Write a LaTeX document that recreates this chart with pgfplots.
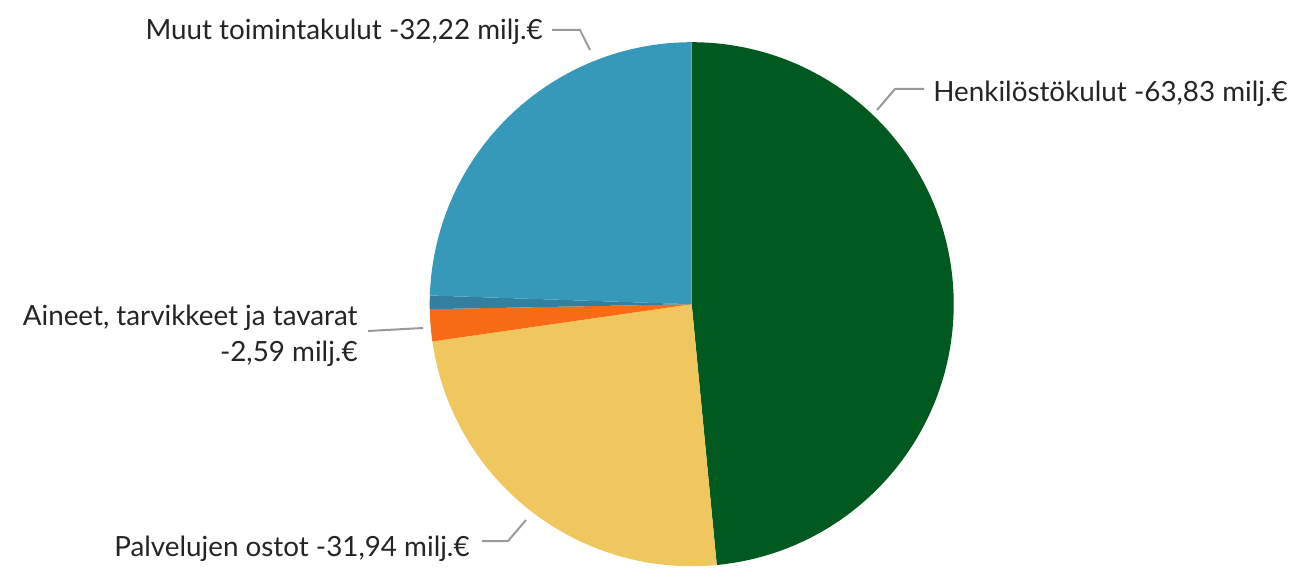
\documentclass[border=0pt]{standalone}
\usepackage{pgfplots}
\pgfplotsset{compat=1.18}
\usepackage{pgfplotstable}
\usepackage{fontspec}
\setmainfont{Lato}

\definecolor{cHenk}{HTML}{005A20}
\definecolor{cPalv}{HTML}{F0C75F}
\definecolor{cAine}{HTML}{F86B16}
\definecolor{cMuu}{HTML}{327F9E}
\definecolor{cMuut}{HTML}{3799BA}
\definecolor{txt}{HTML}{252423}
\definecolor{lead}{HTML}{999999}

% absolute values (milj. euro), clockwise from 12 o'clock
\pgfplotstableread[col sep=comma]{
name,value,color
Henkilostokulut,63.83,cHenk
Palvelujen ostot,31.94,cPalv
Aineet,2.59,cAine
Muu,1.10,cMuu
Muut toimintakulut,32.22,cMuut
}\slices

\begin{document}
\begin{tikzpicture}
\pgfplotstablegetrowsof{\slices}
\pgfmathtruncatemacro\nrows{\pgfplotsretval-1}
\gdef\total{0}
\foreach \i in {0,...,\nrows}{%
  \pgfplotstablegetelem{\i}{value}\of\slices
  \pgfmathsetmacro\tmp{\total+\pgfplotsretval}\xdef\total{\tmp}}
\def\cx{691.7}\def\cy{265.8}\def\R{262}
\tikzset{every node/.style={font=\fontsize{13.9}{16}\selectfont, text=txt, inner sep=0pt}}
\begin{axis}[hide axis, scale only axis, width=645.5pt, height=285pt,
  xmin=0, xmax=1291, ymin=0, ymax=570, clip=false]
\addplot[draw=none] coordinates {(0,0) (1291,570)};
\def\cum{0}
\pgfplotsforeachungrouped \i in {0,...,\nrows}{%
  \pgfplotstablegetelem{\i}{value}\of\slices \let\v\pgfplotsretval
  \pgfplotstablegetelem{\i}{color}\of\slices \let\col\pgfplotsretval
  \pgfmathsetmacro\aS{90-\cum/\total*360}
  \pgfmathsetmacro\aE{90-(\cum+\v)/\total*360}
  \edef\slice{\noexpand\fill[\col] (axis cs:\cx,\cy) -- (axis cs:{\cx+\R*cos(\aS)},{\cy+\R*sin(\aS)}) arc[start angle=\aS, end angle=\aE, radius=\R*0.5pt] -- cycle;}
  \slice
  \pgfmathsetmacro\cum{\cum+\v}
}
% labels and leader lines
\draw[lead, line width=1pt] (axis cs:552,540) -- (axis cs:580,540) -- (axis cs:590,520);
\node[anchor=base east] at (axis cs:543,530) {Muut toimintakulut -32,22 milj.€};
\draw[lead, line width=1pt] (axis cs:877,460) -- (axis cs:895,481) -- (axis cs:924,481);
\node[anchor=base west] at (axis cs:933,468.3) {Henkilöstökulut -63,83 milj.€};
\draw[lead, line width=1pt] (axis cs:368,239) -- (axis cs:423,242);
\node[anchor=base east] at (axis cs:358,245) {Aineet, tarvikkeet ja tavarat};
\node[anchor=base east] at (axis cs:358,209) {-2,59 milj.€};
\draw[lead, line width=1pt] (axis cs:482,29) -- (axis cs:508,29) -- (axis cs:526,50);
\node[anchor=base east] at (axis cs:470,13.3) {Palvelujen ostot -31,94 milj.€};
\end{axis}
\end{tikzpicture}
\end{document}
